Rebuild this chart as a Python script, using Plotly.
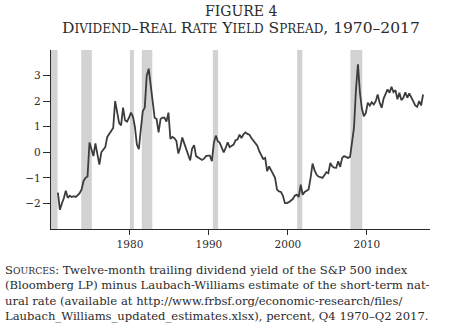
import plotly.graph_objects as go

# Quarterly dividend yield minus natural-rate estimate, percent, 1970Q4 .. 2017Q2
first_year, first_quarter = 1970, 4
spread = [
    -1.58,
    -2.25, -2.00, -1.80, -1.50,   # 1971
    -1.78, -1.70, -1.75, -1.72,   # 1972
    -1.75, -1.68, -1.60, -1.45,   # 1973
    -1.12, -1.00, -0.95, 0.38,    # 1974
    0.10, -0.15, 0.35, 0.00,      # 1975
    -0.48, 0.00, 0.10, 0.20,      # 1976
    0.60, 0.72, 0.85, 0.95,       # 1977
    2.00, 1.50, 1.15, 1.05,       # 1978
    1.75, 1.25, 1.20, 1.35,       # 1979
    1.55, 1.40, 1.00, 0.30,       # 1980
    0.12, 0.90, 1.60, 1.75,       # 1981
    3.00, 3.27, 2.60, 2.05,       # 1982
    1.35, 1.30, 0.78, 1.30,       # 1983
    1.35, 1.35, 1.20, 1.55,       # 1984
    0.52, 0.60, 0.55, 0.45,       # 1985
    -0.05, 0.20, 0.58, 0.35,      # 1986
    0.10, -0.10, -0.32, 0.15,     # 1987
    0.28, -0.15, -0.20, -0.22,    # 1988
    -0.30, -0.25, -0.15, -0.13,   # 1989
    -0.13, -0.35, 0.37, 0.65,     # 1990
    0.43, 0.37, 0.15, 0.00,       # 1991
    0.17, 0.39, 0.20, 0.25,       # 1992
    0.30, 0.47, 0.50, 0.69,       # 1993
    0.56, 0.70, 0.78, 0.72,       # 1994
    0.69, 0.56, 0.45, 0.34,       # 1995
    0.26, 0.04, -0.09, -0.26,     # 1996
    -0.22, -0.74, -0.55, -0.70,   # 1997
    -0.81, -1.00, -1.46, -1.53,   # 1998
    -1.55, -1.70, -1.99, -1.99,   # 1999
    -1.95, -1.90, -1.83, -1.70,   # 2000
    -1.66, -1.75, -1.27, -1.66,   # 2001
    -1.55, -1.50, -1.45, -1.00,   # 2002
    -0.44, -0.70, -0.87, -0.95,   # 2003
    -0.97, -1.00, -0.90, -0.78,   # 2004
    -0.82, -0.42, -0.55, -0.60,   # 2005
    -0.61, -0.35, -0.57, -0.22,   # 2006
    -0.15, -0.20, -0.22, -0.18,   # 2007
    0.50, 0.96, 2.46, 3.44,       # 2008
    2.33, 1.70, 1.41, 1.54,       # 2009
    1.94, 1.83, 1.96, 1.87,       # 2010
    2.00, 2.26, 1.94, 1.74,       # 2011
    2.10, 2.30, 2.46, 2.33,       # 2012
    2.56, 2.35, 2.43, 2.07,       # 2013
    2.33, 2.04, 2.13, 2.35,       # 2014
    2.13, 2.30, 2.17, 2.00,       # 2015
    1.83, 1.78, 2.00, 1.83,       # 2016
    2.26,                         # 2017
]

# NBER recession periods (fractional years)
recession_start = [1969.92, 1973.83, 1980.00, 1981.50, 1990.50, 2001.17, 2007.92]
recession_end = [1970.83, 1975.17, 1980.50, 1982.83, 1991.17, 2001.83, 2009.42]

x_ticks = [1980, 1990, 2000, 2010]
y_ticks = [-2, -1, 0, 1, 2, 3]
y_tick_text = ["\u22122", "\u22121", "0", "1", "2", "3"]

# quarter mid-points as fractional years
dates = []
for i in range(len(spread)):
    q = first_quarter - 1 + i
    dates.append(first_year + q // 4 + ((q % 4) + 0.5) / 4)

SERIF = "DejaVu Serif"
INK = "#2b2b2b"

fig = go.Figure()
fig.add_trace(go.Scatter(
    x=dates, y=spread, mode="lines",
    line=dict(color="#3c3c3c", width=1.8),
    hoverinfo="skip", showlegend=False,
))

for a, b in zip(recession_start, recession_end):
    fig.add_shape(type="rect", xref="x", yref="y", x0=max(a, 1970), x1=b, y0=-3, y1=4,
                  fillcolor="#d2d2d4", line=dict(width=0), layer="below")


def small_caps(text, small):
    """Initial capitals stay full size, other letters become reduced capitals."""
    out = []
    for word in text.split(" "):
        parts = []
        for j, ch in enumerate(word):
            if ch.isalpha() and ch.isupper() and (j == 0 or not word[j - 1].isalpha()):
                parts.append(ch)
            elif ch.isalpha():
                parts.append(f'<span style="font-size:{small}px">{ch.upper()}</span>')
            else:
                parts.append(ch)
        out.append("".join(parts))
    return " ".join(out).replace('</span><span style="font-size:%spx">' % small, "")


fig.add_annotation(text="FIGURE 4", xref="paper", yref="paper", x=0.5, y=1,
                   xanchor="center", yanchor="middle", showarrow=False,
                   yshift=50 - 11, font=dict(family=SERIF, size=14, color=INK))
title2 = small_caps("Dividend\u2013Real Rate Yield Spread,", 12) + " 1970\u20132017"
fig.add_annotation(text=title2, xref="paper", yref="paper", x=0.5, y=1,
                   xanchor="center", yanchor="middle", showarrow=False,
                   yshift=50 - 28, font=dict(family=SERIF, size=15.5, color=INK))

source_lines = [
    small_caps("Sources:", 9.2) + " Twelve-month trailing dividend yield of the S&amp;P 500 index",
    "(Bloomberg LP) minus Laubach-Williams estimate of the short-term nat-",
    "ural rate (available at http://www.frbsf.org/economic-research/files/",
    "Laubach_Williams_updated_estimates.xlsx), percent, Q4 1970\u2013Q2 2017.",
]
for k, line in enumerate(source_lines):
    fig.add_annotation(text=line, xref="paper", yref="paper", x=0, y=0, xanchor="left",
                       yanchor="middle", showarrow=False, align="left",
                       xshift=-51 + 3, yshift=-(270 - 229) - 15.3 * k,
                       font=dict(family=SERIF, size=11.6, color=INK))

fig.update_layout(
    width=450, height=328,
    margin=dict(l=51, r=20, t=50, b=99),
    paper_bgcolor="white", plot_bgcolor="white",
    font=dict(family=SERIF, size=11, color=INK),
    xaxis=dict(range=[1970, 2018], tickvals=x_ticks, ticks="outside", ticklen=5, tickwidth=1.2,
               tickcolor=INK, showline=True, linecolor=INK, linewidth=1.4, showgrid=False,
               zeroline=False, tickfont=dict(family=SERIF, size=10.5, color=INK)),
    yaxis=dict(range=[-3, 4], tickvals=y_ticks, ticktext=y_tick_text, ticks="outside", ticklen=7,
               tickwidth=1.2, tickcolor=INK, showline=True, linecolor=INK, linewidth=1.4,
               showgrid=False, zeroline=False, tickfont=dict(family=SERIF, size=10.5, color=INK)),
)

fig.write_html("out.html")
